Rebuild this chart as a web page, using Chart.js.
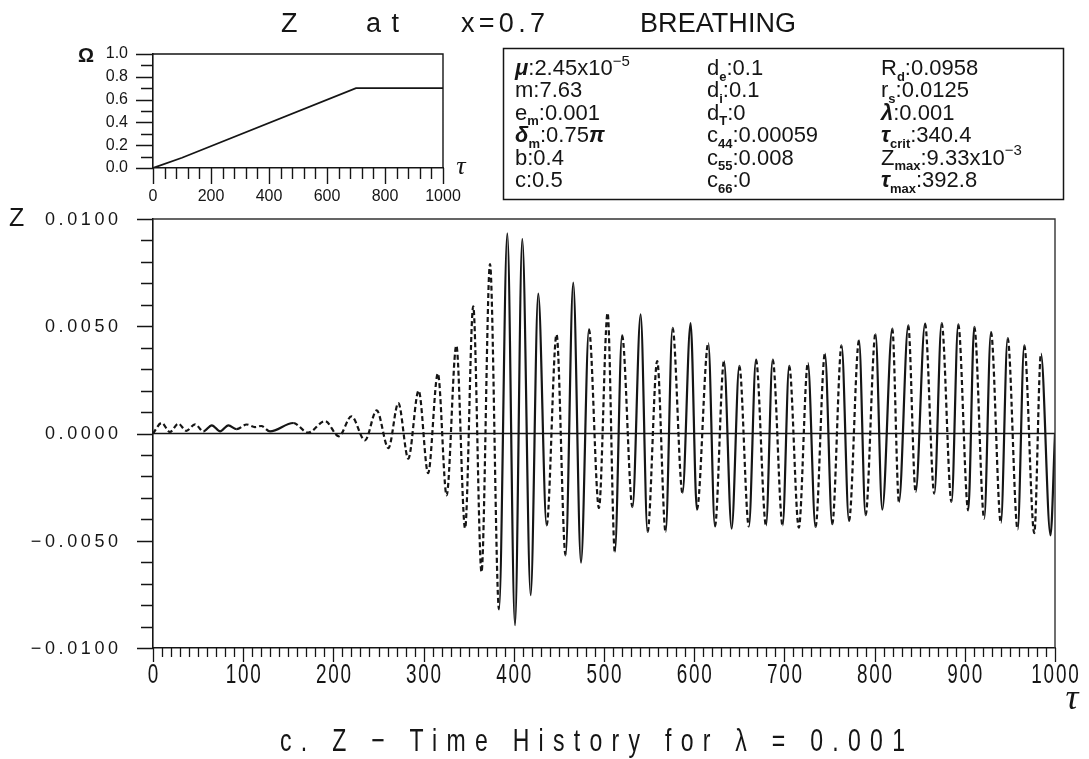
<!DOCTYPE html>
<html>
<head>
<meta charset="utf-8">
<script src="https://cdn.jsdelivr.net/npm/chart.js"></script>
<style>
  body { margin: 0; background: #fff; }
  #wrap { position: relative; width: 1089px; height: 759px; }
  #wrap canvas { position: absolute; left: 0; top: 0; }
</style>
</head>
<body>
<div id="wrap">
  <canvas id="main" width="1089" height="759"></canvas>
  <canvas id="omega" width="480" height="215"></canvas>
</div>
<script>
// Z time history: turning points of the response (tau, Z)
const tau = [0, 9.6, 18.8, 28, 37, 46.6, 55.9, 65.2, 74.4, 83.6, 92.8, 103.8, 113, 120, 129.7,
  155.5, 172, 190.7, 206, 220, 235, 248, 261, 272, 283, 294.5, 305, 315.8, 325.5, 336.3, 346,
  355, 364.2, 373.6, 383.6, 392.8, 401.3, 409.4, 418.7, 427.1, 436.4, 447.4, 457.4, 465.9,
  474.5, 483.3, 494.4, 504, 512, 520, 531.6, 540.6, 548.3, 559, 568.3, 576, 587, 596, 603,
  615.6, 623, 633, 641.5, 650, 660.6, 668.5, 679.6, 687, 698, 705.3, 716, 726, 734.5, 744.9,
  753, 763.4, 771.6, 782.7, 790, 801, 808.5, 819.6, 827, 837.3, 845.5, 855.9, 866.2, 874.3,
  885.3, 892.7, 903.8, 910.5, 921.5, 929, 940, 947.5, 958.6, 965.9, 977, 984.4, 995, 1000];
const zVal = [0, 0.00049, 0.00007, 0.00046, 0.00012, 0.00043, 0.0001, 0.00038, 0.0001, 0.00038,
  0.0002, 0.00042, 0.0003, 0.00035, 0.0001, 0.00049, 0.00004, 0.00058, -0.00013, 0.0008,
  -0.00032, 0.00108, -0.00068, 0.00142, -0.00117, 0.002, -0.00185, 0.0028, -0.00288, 0.0041,
  -0.00442, 0.00593, -0.00646, 0.0079, -0.0082, 0.00933, -0.00894, 0.00908, -0.00754, 0.00652,
  -0.00428, 0.00462, -0.00568, 0.00703, -0.00602, 0.00486, -0.00347, 0.00562, -0.00552,
  0.00458, -0.00343, 0.00556, -0.00459, 0.00338, -0.00459, 0.00492, -0.00277, 0.00515,
  -0.00355, 0.00422, -0.00433, 0.00338, -0.00444, 0.00315, -0.00433, 0.00344, -0.00428,
  0.00344, -0.00428, 0.00315, -0.00439, 0.00329, -0.00436, 0.00372, -0.00423, 0.00411,
  -0.00408, 0.00434, -0.00381, 0.00465, -0.00355, 0.00489, -0.00319, 0.00504, -0.00273,
  0.00512, -0.00281, 0.00515, -0.00319, 0.00509, -0.00358, 0.00497, -0.00397, 0.00473,
  -0.00417, 0.00445, -0.00448, 0.00411, -0.00464, 0.00372, -0.00475, 0];
// line style of the piece leaving each point: s = solid, d = dashed
const segStyle = ["dddddd", "ssss", "dddd", "s", "dd", "ddddddddddddddddd", "ssssss", "dd", "sss",
  "ddd", "s", "d", "ss", "dd", "s", "d", "ss", "d", "s", "d", "ss", "d", "s", "d", "s", "d", "s",
  "dd", "s", "d", "s", "d", "s", "d", "s", "d", "ss", "d", "s", "d", "s", "d", "s", "d", "s", "d",
  "s", "d", "s", "d", "s", "d", "s", "dd", "sss"].join("");

// frequency ramp for the small plot
const omegaTau = [0, 100, 700, 1000];
const omegaVal = [0, 0.09, 0.7, 0.7];

const zTicks = [-0.01, -0.005, 0, 0.005, 0.01];
const tauTicks = [0, 100, 200, 300, 400, 500, 600, 700, 800, 900, 1000];

// parameter table, three columns
const paramCols = [
  ["μ:2.45x10^{−5}", "m:7.63", "e_{m}:0.001", "δ_{m}:0.75π", "b:0.4", "c:0.5"],
  ["d_{e}:0.1", "d_{i}:0.1", "d_{T}:0", "c_{44}:0.00059", "c_{55}:0.008", "c_{66}:0"],
  ["R_{d}:0.0958", "r_{s}:0.0125", "λ:0.001", "τ_{crit}:340.4", "Z_{max}:9.33x10^{−3}", "τ_{max}:392.8"]
];

const FONT = "'Liberation Sans', Arial, sans-serif";
const INK = "#151515";

function fmtZ(v) {
  if (Math.abs(v) < 1e-9) return "0.0000";
  return (v < 0 ? "\u2212" : "") + Math.abs(v).toFixed(4);
}

// draw a string with extra letter spacing, squeezed by sx; anchor = left | center | right
function spaced(ctx, s, x, y, sp, anchor, sx) {
  sx = sx || 1;
  ctx.save();
  ctx.letterSpacing = "0px";
  const n = [...s].length;
  const w = (ctx.measureText(s).width + sp * (n - 1)) * sx;
  let left = x;
  if (anchor === "center") left = x - w / 2;
  if (anchor === "right") left = x - w;
  ctx.translate(left, y);
  ctx.scale(sx, 1);
  ctx.textAlign = "left";
  ctx.letterSpacing = sp + "px";
  ctx.fillText(s, 0, 0);
  ctx.restore();
}

// spacing needed to stretch s to a given width
function spreadTo(ctx, s, width, sx) {
  const n = [...s].length;
  return Math.max(0, (width / (sx || 1) - ctx.measureText(s).width) / (n - 1));
}

// text with _{sub} and ^{sup} parts, greek letters in bold
function drawRich(ctx, str, x, y, size) {
  const parts = str.match(/_\{[^}]*\}|\^\{[^}]*\}|[μδτλπ]|[^_^μδτλπ]+/g);
  let cx = x;
  ctx.textAlign = "left";
  ctx.textBaseline = "alphabetic";
  parts.forEach(p => {
    let t = p, dy = 0;
    if (p.startsWith("_{")) {
      t = p.slice(2, -1); dy = size * 0.25;
      ctx.font = "bold " + Math.round(size * 0.6) + "px " + FONT;
    } else if (p.startsWith("^{")) {
      t = p.slice(2, -1); dy = -size * 0.42;
      ctx.font = Math.round(size * 0.68) + "px " + FONT;
    } else if (/[μδτλπ]/.test(p)) {
      ctx.font = "bold italic " + size + "px " + FONT;
    } else {
      ctx.font = size + "px " + FONT;
    }
    ctx.fillText(t, cx, y + dy);
    cx += ctx.measureText(t).width;
  });
}

const mainDecor = {
  id: "mainDecor",
  beforeDraw(chart) {
    const ctx = chart.ctx;
    ctx.save();
    ctx.fillStyle = "#fff";
    ctx.fillRect(0, 0, chart.width, chart.height);
    ctx.restore();
  },
  beforeDatasetsDraw(chart) {
    const { ctx, chartArea: a, scales: { y } } = chart;
    ctx.save();
    ctx.strokeStyle = INK;
    ctx.lineWidth = 1.6;
    const y0 = y.getPixelForValue(0);
    ctx.beginPath();
    ctx.moveTo(a.left, y0);
    ctx.lineTo(a.right, y0);
    ctx.stroke();
    ctx.restore();
  },
  afterDraw(chart) {
    const { ctx, chartArea: a, scales: { x, y } } = chart;
    ctx.save();
    ctx.strokeStyle = "#333";
    ctx.lineWidth = 1.4;
    ctx.beginPath();
    ctx.moveTo(a.left, a.top);
    ctx.lineTo(a.right, a.top);
    ctx.lineTo(a.right, a.bottom);
    ctx.stroke();

    // tick marks
    ctx.strokeStyle = INK;
    ctx.lineWidth = 1.3;
    ctx.beginPath();
    for (let k = -10; k <= 10; k++) {
      const py = Math.round(y.getPixelForValue(k * 0.001)) + 0.5;
      const len = k % 5 === 0 ? 16 : 12;
      ctx.moveTo(a.left - len, py);
      ctx.lineTo(a.left, py);
    }
    for (let k = 0; k <= 100; k++) {
      const px = Math.round(x.getPixelForValue(k * 10)) + 0.5;
      const len = k % 10 === 0 ? 14 : 9;
      ctx.moveTo(px, a.bottom);
      ctx.lineTo(px, a.bottom + len);
    }
    ctx.stroke();

    // tick labels
    ctx.fillStyle = INK;
    ctx.textBaseline = "middle";
    ctx.font = "18px " + FONT;
    zTicks.forEach(v => spaced(ctx, fmtZ(v), a.left - 35, y.getPixelForValue(v) + 1, 3.6, "right"));
    ctx.textBaseline = "alphabetic";
    ctx.font = "27px " + FONT;
    tauTicks.forEach(v => spaced(ctx, String(v), x.getPixelForValue(v), a.bottom + 35, 2.5, "center", 0.7));

    // titles and axis names
    ctx.font = "27px " + FONT;
    const heads = [["Z", 281, 17], ["at", 366, 33], ["x=0.7", 461, 84], ["BREATHING", 640, 156]];
    heads.forEach(([s, hx, hw]) => {
      spaced(ctx, s, hx, 32, s.length > 1 ? spreadTo(ctx, s, hw) : 0, "left");
    });

    ctx.font = "25px " + FONT;
    ctx.textBaseline = "middle";
    ctx.textAlign = "left";
    ctx.fillText("Z", 9, a.top);

    ctx.font = "italic 36px 'Liberation Serif', serif";
    ctx.textAlign = "center";
    ctx.fillText("τ", 1072, 700);

    // caption, stretched over its line
    const cap = "c. Z − Time History for λ = 0.001";
    ctx.font = "32px " + FONT;
    ctx.textBaseline = "alphabetic";
    spaced(ctx, cap, 280, 751, spreadTo(ctx, cap, 625, 0.72), "left", 0.72);

    // parameter box
    ctx.strokeStyle = INK;
    ctx.lineWidth = 1.5;
    ctx.strokeRect(503.5, 48.5, 560, 151);
    const colX = [515, 707, 881];
    paramCols.forEach((col, ci) => {
      col.forEach((s, ri) => drawRich(ctx, s, colX[ci], 75 + ri * 22.4, 22));
    });
    ctx.restore();
  }
};

new Chart(document.getElementById("main"), {
  type: "line",
  data: {
    datasets: [{
      data: tau.map((t, i) => ({ x: t, y: zVal[i] })),
      borderColor: INK,
      borderWidth: 2.2,
      pointRadius: 0,
      cubicInterpolationMode: "monotone",
      segment: {
        borderDash: c => segStyle[c.p0DataIndex] === "d" ? [5, 3] : undefined
      }
    }]
  },
  options: {
    responsive: false,
    animation: false,
    layout: { padding: { top: 219, right: 34, left: 0, bottom: 0 } },
    plugins: { legend: { display: false }, tooltip: { enabled: false } },
    scales: {
      x: {
        type: "linear", min: 0, max: 1000,
        ticks: { display: false, stepSize: 100 },
        grid: { display: false, drawTicks: false },
        border: { display: true, color: INK, width: 1.6 },
        afterFit: s => { s.height = 759 - 648; s.paddingLeft = 0; s.paddingRight = 0; }
      },
      y: {
        min: -0.01, max: 0.01,
        ticks: { display: false, stepSize: 0.005 },
        grid: { display: false, drawTicks: false },
        border: { display: true, color: INK, width: 1.6 },
        afterFit: s => { s.width = 153; s.paddingTop = 0; s.paddingBottom = 0; }
      }
    }
  },
  plugins: [mainDecor]
});

const omegaDecor = {
  id: "omegaDecor",
  afterDraw(chart) {
    const { ctx, chartArea: a, scales: { x, y } } = chart;
    ctx.save();
    ctx.strokeStyle = INK;
    ctx.lineWidth = 1.4;
    ctx.beginPath();
    ctx.moveTo(a.left, a.top);
    ctx.lineTo(a.right, a.top);
    ctx.lineTo(a.right, a.bottom);
    for (let k = 0; k <= 10; k++) {
      const py = Math.round(y.getPixelForValue(k / 10)) + 0.5;
      const len = k % 2 === 0 ? 17 : 12;
      ctx.moveTo(a.left - len, py);
      ctx.lineTo(a.left, py);
    }
    for (let k = 0; k <= 25; k++) {
      const px = Math.round(x.getPixelForValue(k * 40)) + 0.5;
      const len = k % 5 === 0 ? 16 : 11;
      ctx.moveTo(px, a.bottom);
      ctx.lineTo(px, a.bottom + len);
    }
    ctx.stroke();

    ctx.fillStyle = INK;
    ctx.font = "bold 20px " + FONT;
    ctx.textAlign = "center";
    ctx.textBaseline = "middle";
    ctx.fillText("Ω", 86, 56);
    ctx.font = "italic 26px 'Liberation Serif', serif";
    ctx.fillText("τ", 461, 167);
    ctx.restore();
  }
};

new Chart(document.getElementById("omega"), {
  type: "line",
  data: {
    datasets: [{
      data: omegaTau.map((t, i) => ({ x: t, y: omegaVal[i] })),
      borderColor: INK,
      borderWidth: 1.8,
      pointRadius: 0,
      tension: 0
    }]
  },
  options: {
    responsive: false,
    animation: false,
    layout: { padding: { top: 54, right: 37, left: 0, bottom: 0 } },
    plugins: { legend: { display: false }, tooltip: { enabled: false } },
    scales: {
      x: {
        type: "linear", min: 0, max: 1000,
        ticks: { stepSize: 200, padding: 19, color: INK, maxRotation: 0,
                 callback: v => String(v), font: { family: FONT, size: 16 } },
        grid: { display: false, drawTicks: false },
        border: { display: true, color: INK, width: 1.6 },
        afterFit: s => { s.height = 215 - 168; s.paddingLeft = 0; s.paddingRight = 0; }
      },
      y: {
        min: 0, max: 1,
        ticks: { stepSize: 0.2, padding: 25, color: INK, callback: v => v.toFixed(1),
                 font: { family: FONT, size: 16 } },
        grid: { display: false, drawTicks: false },
        border: { display: true, color: INK, width: 1.6 },
        afterFit: s => { s.width = 153; s.paddingTop = 0; s.paddingBottom = 0; }
      }
    }
  },
  plugins: [omegaDecor]
});
</script>
</body>
</html>
